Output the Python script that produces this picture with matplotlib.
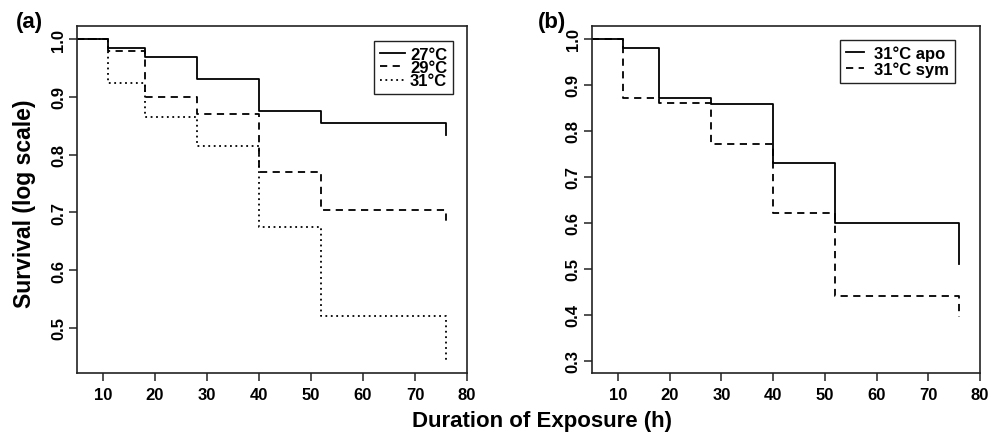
import matplotlib
matplotlib.use("Agg")
import matplotlib.pyplot as plt

plt.rcParams['font.family'] = ['Liberation Sans', 'DejaVu Sans']
plt.rcParams['font.weight'] = 'bold'

# Kaplan-Meier steps (time in h, survival)
times = [5, 11, 18, 28, 40, 52, 76]
surv_27 = [1.0, 0.984, 0.969, 0.930, 0.875, 0.855, 0.834]
surv_29 = [1.0, 0.980, 0.899, 0.870, 0.769, 0.704, 0.681]
surv_31 = [1.0, 0.924, 0.865, 0.814, 0.674, 0.520, 0.445]
surv_apo = [1.0, 0.980, 0.870, 0.859, 0.730, 0.600, 0.509]
surv_sym = [1.0, 0.870, 0.860, 0.770, 0.621, 0.440, 0.395]

xticks = [10, 20, 30, 40, 50, 60, 70, 80]
yticks_a = [0.5, 0.6, 0.7, 0.8, 0.9, 1.0]
yticks_b = [0.3, 0.4, 0.5, 0.6, 0.7, 0.8, 0.9, 1.0]

fig = plt.figure(figsize=(10.03, 4.35), dpi=100)
ax1 = fig.add_axes([0.0768, 0.1402, 0.3888, 0.7977])
ax2 = fig.add_axes([0.5902, 0.1402, 0.3869, 0.7977])

lw = 1.3
ax1.plot(times, surv_27, drawstyle='steps-post', color='black', lw=lw, label='27°C')
ax1.plot(times, surv_29, drawstyle='steps-post', color='black', lw=lw,
         dashes=(4, 3), label='29°C')
ax1.plot(times, surv_31, drawstyle='steps-post', color='black', lw=lw,
         dashes=(1, 2), label='31°C')
ax2.plot(times, surv_apo, drawstyle='steps-post', color='black', lw=lw, label='31°C apo')
ax2.plot(times, surv_sym, drawstyle='steps-post', color='black', lw=lw,
         dashes=(4, 3), label='31°C sym')

for ax, yt in ((ax1, yticks_a), (ax2, yticks_b)):
    ax.set_xlim(5, 80)
    ax.set_xticks(xticks)
    ax.set_yticks(yt)
    ax.set_yticklabels([f'{v:.1f}' for v in yt], rotation=90, va='center')
    ax.tick_params(direction='out', length=6, width=1.1, labelsize=12,
                   color='#222222')
    ax.tick_params(axis='y', pad=2)
    ax.tick_params(axis='x', pad=4)
    for s in ax.spines.values():
        s.set_linewidth(1.2)
        s.set_color('#222222')

ax1.set_ylim(0.422, 1.0225)
ax2.set_ylim(0.273, 1.0276)

leg_kw = dict(fontsize=12, borderpad=0.35, fancybox=False,
              edgecolor='#222222', framealpha=1, borderaxespad=0.0)
l1 = ax1.legend(loc='upper right', bbox_to_anchor=(0.964, 0.957), labelspacing=-0.1,
                handlelength=1.5, handletextpad=0.3, **leg_kw)
l2 = ax2.legend(loc='upper right', bbox_to_anchor=(0.9356, 0.96), labelspacing=0.0,
                handlelength=1.1, handletextpad=0.6, **leg_kw)
for l in (l1, l2):
    l.get_frame().set_linewidth(1.0)

fig.text(0.016, 0.949, '(a)', fontsize=16, fontweight='bold', va='center')
fig.text(0.536, 0.949, '(b)', fontsize=16, fontweight='bold', va='center')
fig.text(0.024, 0.532, 'Survival (log scale)', fontsize=16.5, fontweight='bold',
         rotation=90, ha='center', va='center')
fig.text(0.54, 0.03, 'Duration of Exposure (h)', fontsize=16, fontweight='bold',
         ha='center', va='center')

fig.savefig('out.png', dpi=100)
